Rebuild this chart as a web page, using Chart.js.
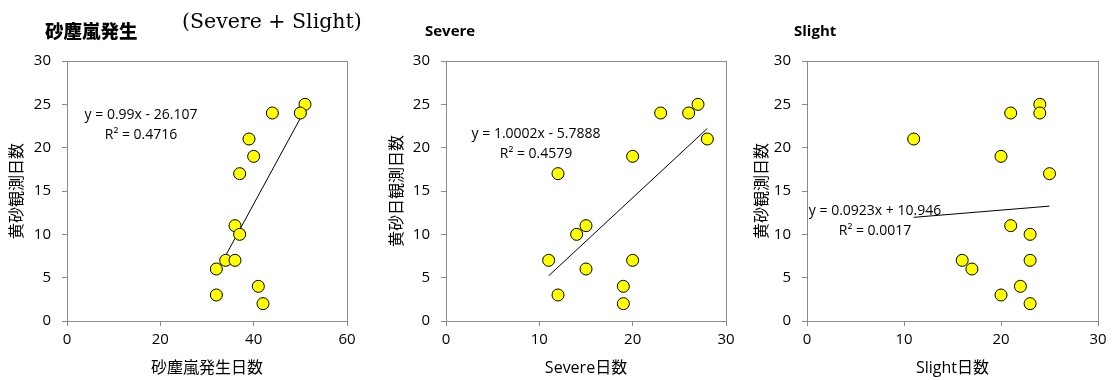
<!DOCTYPE html>
<html>
<head>
<meta charset="utf-8">
<script src="https://cdn.jsdelivr.net/npm/chart.js@4"></script>
<style>
  body { margin: 0; background: #fff; }
  #wrap { position: relative; width: 1118px; height: 380px; overflow: hidden; background: #fff; }
  canvas { position: absolute; top: 0; }
  .lbl { position: absolute; white-space: nowrap; color: #000; }
  .head { font-family: "Open Sans", "Noto Sans CJK JP", sans-serif; font-weight: 700; font-size: 15px; line-height: 20px; }
  .eq { font-family: "Open Sans", sans-serif; font-size: 14px; line-height: 20px; transform: translateX(-50%); text-align: center; }
</style>
</head>
<body>
<div id="wrap">
  <canvas id="c1" width="373" height="380" style="left:0px"></canvas>
  <canvas id="c2" width="373" height="380" style="left:373px"></canvas>
  <canvas id="c3" width="372" height="380" style="left:746px"></canvas>

  <div class="lbl head" style="left:45px;top:19px;font-family:'Noto Sans CJK JP',sans-serif;font-size:18.5px;line-height:22px;font-weight:900;">砂塵嵐発生</div>
  <div class="lbl" style="left:182px;top:8px;font-family:'DejaVu Serif',serif;font-size:20.5px;line-height:26px;">(Severe + Slight)</div>
  <div class="lbl head" style="left:425px;top:20px;">Severe</div>
  <div class="lbl head" style="left:794px;top:20px;">Slight</div>

  <div class="lbl eq" style="left:141px;top:104px;">y = 0.99x - 26.107<br>R² = 0.4716</div>
  <div class="lbl eq" style="left:536px;top:123px;">y = 1.0002x - 5.7888<br>R² = 0.4579</div>
  <div class="lbl eq" style="left:875px;top:200px;">y = 0.0923x + 10.946<br>R² = 0.0017</div>
</div>
<script>
// 黄砂観測日数 (y) for each year
const kosaDays = [25, 24, 24, 21, 19, 17, 11, 10, 7, 7, 6, 3, 4, 2];
// 砂塵嵐発生日数 (x)
const severeDays = [27, 26, 23, 28, 20, 12, 15, 14, 11, 20, 15, 12, 19, 19];
const slightDays = [24, 24, 21, 11, 20, 25, 21, 23, 23, 16, 17, 20, 22, 23];
const totalDays = [51, 50, 44, 39, 40, 37, 36, 37, 34, 36, 32, 32, 41, 42];

// Excel trendlines (slope, intercept)
const trendTotal = [0.99, -26.107];
const trendSevere = [1.0002, -5.7888];
const trendSlight = [0.0923, 10.946];

const yTicksMax = 30;
const xMaxTotal = 60;
const xMaxPart = 30;

const borderGrey = "#8a8a8a";
const tickFont = { family: "'Open Sans', sans-serif", size: 15 };
const titleFont = { family: "'Open Sans', 'Noto Sans CJK JP', sans-serif", size: 16 };

// draw the box around the plot area (top + right too)
const frame = {
  id: "frame",
  beforeDatasetsDraw(chart) {
    const a = chart.chartArea;
    const ctx = chart.ctx;
    ctx.save();
    ctx.strokeStyle = borderGrey;
    ctx.lineWidth = 1;
    ctx.strokeRect(Math.round(a.left) + 0.5, Math.round(a.top) + 0.5,
      Math.round(a.right - a.left), Math.round(a.bottom - a.top));
    ctx.restore();
  }
};

function makeChart(id, xs, trend, opt) {
  const pts = xs.map((x, i) => ({ x: x, y: kosaDays[i] }));
  const lo = Math.min(...xs), hi = Math.max(...xs);
  const line = [lo, hi].map(x => ({ x: x, y: trend[0] * x + trend[1] }));

  return new Chart(document.getElementById(id), {
    type: "scatter",
    data: {
      datasets: [
        {
          type: "line",
          data: line,
          borderColor: "#000",
          borderWidth: 1,
          pointRadius: 0,
          order: 2,
        },
        {
          data: pts,
          backgroundColor: "#ffff00",
          borderColor: "#000",
          borderWidth: 1,
          pointRadius: 6,
          order: 1,
        },
      ],
    },
    options: {
      responsive: false,
      animation: false,
      events: [],
      layout: { padding: { top: 61, right: opt.right, left: 0, bottom: 0 } },
      plugins: { legend: { display: false }, tooltip: { enabled: false } },
      scales: {
        x: {
          type: "linear",
          min: 0,
          max: opt.xMax,
          ticks: { stepSize: opt.step, font: tickFont, color: "#000", padding: 5, maxRotation: 0 },
          grid: { drawOnChartArea: false, color: borderGrey, tickLength: 5 },
          border: { color: borderGrey },
          title: { display: true, text: opt.xTitle, font: titleFont, color: "#000", padding: { top: 0, bottom: 2 } },
          afterFit(s) { s.height = 59; },
        },
        y: {
          min: 0,
          max: yTicksMax,
          ticks: { stepSize: 5, font: tickFont, color: "#000", padding: 11 },
          grid: { drawOnChartArea: false, color: borderGrey, tickLength: 5 },
          border: { color: borderGrey },
          title: { display: true, text: opt.yTitle, font: titleFont, color: "#000", padding: { top: opt.yPad, bottom: 0 } },
          afterFit(s) { s.width = opt.left; },
        },
      },
    },
    plugins: [frame],
  });
}

makeChart("c1", totalDays, trendTotal, { xMax: xMaxTotal, step: 20, right: 26, left: 67, yPad: 8, xTitle: "砂塵嵐発生日数", yTitle: "黄砂観測日数" });
makeChart("c2", severeDays, trendSevere, { xMax: xMaxPart, step: 10, right: 20, left: 73, yPad: 15, xTitle: "Severe日数", yTitle: "黄砂日観測日数" });
makeChart("c3", slightDays, trendSlight, { xMax: xMaxPart, step: 10, right: 20, left: 61, yPad: 7, xTitle: "Slight日数", yTitle: "黄砂観測日数" });
</script>
</body>
</html>
